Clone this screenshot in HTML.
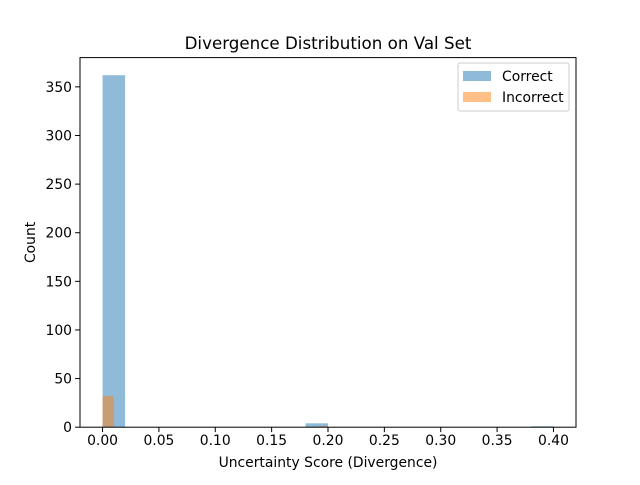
<!DOCTYPE html>
<html><head><meta charset="utf-8"><style>body{margin:0;background:#fff}svg{font-family:"DejaVu Sans","Liberation Sans",sans-serif}</style></head>
<body>
<svg id="c" width="640" height="480" xmlns="http://www.w3.org/2000/svg"></svg>
<script>
const correctEdges = [0,0.02,0.04,0.06,0.08,0.10,0.12,0.14,0.16,0.18,0.20,0.22,0.24,0.26,0.28,0.30,0.32,0.34,0.36,0.38,0.40];
const correctCounts = [362,0,0,0,0,0,0,0,0,4,0,0,0,0,0,0,0,0,0,1];
const incorrectEdges = [0,0.01,0.02,0.03,0.04,0.05,0.06,0.07,0.08,0.09,0.10,0.11,0.12,0.13,0.14,0.15,0.16,0.17,0.18,0.19,0.20];
const incorrectCounts = [32,0,0,0,0,0,0,0,0,0,0,0,0,0,0,0,0,0,0,1];
const xTicks = [0,0.05,0.10,0.15,0.20,0.25,0.30,0.35,0.40];
const xTickLabels = ["0.00","0.05","0.10","0.15","0.20","0.25","0.30","0.35","0.40"];
const yTicks = [0,50,100,150,200,250,300,350];

const L=80,R=576,T=57.6,B=427.2;
const xmin=-0.02,xmax=0.42,ymax=Math.max(...correctCounts,...incorrectCounts)*1.05;
const X=v=>L+(v-xmin)/(xmax-xmin)*(R-L);
const Y=v=>B-v/ymax*(B-T);
const svg=document.getElementById('c');
const NS='http://www.w3.org/2000/svg';
function mk(tag,attrs,parent){const e=document.createElementNS(NS,tag);for(const k in attrs)e.setAttribute(k,attrs[k]);(parent||svg).appendChild(e);return e;}
function txt(s,attrs){const e=mk('text',attrs);e.textContent=s;return e;}

function bars(edges,counts,color,name){
  const g=mk('g',{});
  
  
  counts.forEach((c,i)=>{
    if(c<=0)return;
    const r=mk('rect',{x:X(edges[i]),y:Y(c),width:X(edges[i+1])-X(edges[i]),height:B-Y(c),fill:color,'fill-opacity':0.5},g);
    
    
  });
}
bars(correctEdges,correctCounts,'#1f77b4','correct');
bars(incorrectEdges,incorrectCounts,'#ff7f0e','incorrect');

const frame=mk('rect',{x:L,y:T,width:R-L,height:B-T,fill:'none',stroke:'#000','stroke-width':1});



xTicks.forEach((v,i)=>{
  mk('line',{x1:X(v),x2:X(v),y1:B,y2:B+4.9,stroke:'#000','stroke-width':1});
  const t=txt(xTickLabels[i],{x:X(v),y:B+18,'text-anchor':'middle','font-size':13.9});
  
  
});
yTicks.forEach(v=>{
  mk('line',{x1:L-4.9,x2:L,y1:Y(v),y2:Y(v),stroke:'#000','stroke-width':1});
  const t=txt(String(v),{x:L-8,y:Y(v)+5,'text-anchor':'end','font-size':13.9});
  
  
});
const title=txt('Divergence Distribution on Val Set',{x:(L+R)/2,y:49,'text-anchor':'middle','font-size':16.7});


const xl=txt('Uncertainty Score (Divergence)',{x:(L+R)/2,y:467,'text-anchor':'middle','font-size':13.9});


const yl=txt('Count',{x:35,y:(T+B)/2,'text-anchor':'middle','font-size':13.9,transform:`rotate(-90 35 ${(T+B)/2})`});



const lg=mk('g',{});


mk('rect',{x:458,y:63,width:111,height:48,rx:2,fill:'#fff','fill-opacity':0.8,stroke:'#ccc','stroke-width':1},lg);
[['Correct','#1f77b4',71],['Incorrect','#ff7f0e',92]].forEach(([n,c,y])=>{
  const e=mk('g',{},lg);
  
  
  mk('rect',{x:463,y:y,width:28,height:10,fill:c,'fill-opacity':0.5},e);
  const t=mk('text',{x:502,y:y+10,'font-size':13.9},e);t.textContent=n;
});
</script>
</body></html>
